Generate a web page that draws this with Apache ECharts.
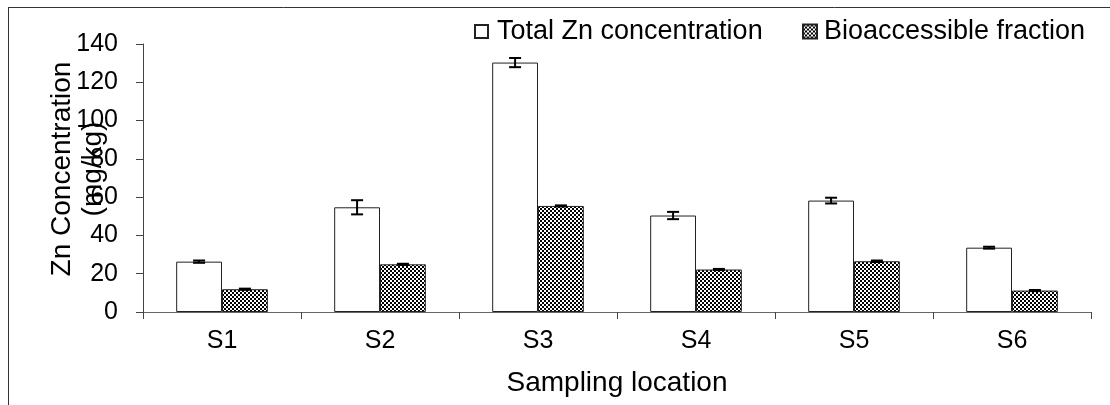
<!DOCTYPE html>
<html>
<head>
<meta charset="utf-8">
<script src="https://cdn.jsdelivr.net/npm/echarts@6/dist/echarts.min.js"></script>
<style>html,body{margin:0;padding:0;background:#fff}#c{width:1110px;height:405px}</style>
</head>
<body>
<div id="c"></div>
<script>
var categories = ['S1', 'S2', 'S3', 'S4', 'S5', 'S6'];
var totalZn = [26.3, 54.7, 130.3, 50.4, 58.2, 33.6];
var totalZnErr = [0.6, 3.7, 2.4, 1.9, 1.5, 0.5];
var bioFraction = [11.9, 24.9, 55.4, 22.2, 26.5, 11.2];
var bioFractionErr = [0.3, 0.3, 0.3, 0.3, 0.4, 0.3];
var yTicks = [0, 20, 40, 60, 80, 100, 120, 140];

var FONT = 'Liberation Sans, Arial, sans-serif';
var CAT_GAP = 0.42;

// checkerboard pattern
var pc = document.createElement('canvas');
pc.width = 4; pc.height = 4;
var pctx = pc.getContext('2d');
pctx.fillStyle = '#fff'; pctx.fillRect(0, 0, 4, 4);
pctx.fillStyle = '#000';
pctx.fillRect(0, 0, 2, 2);
pctx.fillRect(2, 2, 2, 2);

function errSeries(name, vals, errs, side) {
  return {
    type: 'custom',
    name: name + ' error',
    z: 5,
    silent: true,
    data: categories.map(function (c, i) { return [i, vals[i] - errs[i], vals[i] + errs[i]]; }),
    renderItem: function (params, api) {
      var band = api.size([1, 0])[0];
      var bw = band * (1 - CAT_GAP) / 2;
      var lo = api.coord([api.value(0), api.value(1)]);
      var hi = api.coord([api.value(0), api.value(2)]);
      var x = lo[0] + side * bw / 2;
      var cap = 6;
      var st = { stroke: '#000', lineWidth: 2 };
      return {
        type: 'group',
        children: [
          { type: 'line', shape: { x1: x, y1: lo[1], x2: x, y2: hi[1] }, style: st },
          { type: 'line', shape: { x1: x - cap, y1: lo[1], x2: x + cap, y2: lo[1] }, style: st },
          { type: 'line', shape: { x1: x - cap, y1: hi[1], x2: x + cap, y2: hi[1] }, style: st }
        ]
      };
    }
  };
}

var chart = echarts.init(document.getElementById('c'), null, { renderer: 'canvas' });
chart.setOption({
  animation: false,
  backgroundColor: '#fff',
  textStyle: { fontFamily: FONT },
  grid: { left: 143, right: 19, top: 44, bottom: 93, containLabel: false },
  legend: [
    {
      data: ['Total Zn concentration'],
      left: 474, top: 18, padding: 0,
      itemWidth: 13, itemHeight: 13,
      textStyle: { fontSize: 27, color: '#000', fontFamily: FONT, padding: [0, 0, 0, 4] },
      icon: 'rect'
    },
    {
      data: ['Bioaccessible fraction'],
      left: 802, top: 18, padding: 0,
      itemWidth: 14, itemHeight: 14,
      textStyle: { fontSize: 27, color: '#000', fontFamily: FONT, padding: [0, 0, 0, 2] },
      icon: 'rect'
    }
  ],
  xAxis: {
    type: 'category',
    data: categories,
    boundaryGap: true,
    name: 'Sampling location',
    nameLocation: 'middle',
    nameGap: 57,
    nameMoveOverlap: false,
    nameTextStyle: { fontSize: 28, color: '#000', fontFamily: FONT },
    axisLine: { lineStyle: { color: '#666', width: 1 } },
    axisTick: { show: true, length: 7, lineStyle: { color: '#444' }, alignWithLabel: false },
    axisLabel: { fontSize: 25, color: '#000', margin: 17, fontFamily: FONT },
    splitLine: { show: false }
  },
  yAxis: {
    type: 'value',
    min: yTicks[0], max: yTicks[yTicks.length - 1], interval: yTicks[1] - yTicks[0],
    name: 'Zn Concentration\n(mg/kg)',
    nameLocation: 'middle',
    nameGap: 34,
    nameMoveOverlap: false,
    nameTextStyle: { fontSize: 28, color: '#000', lineHeight: 31, fontFamily: FONT, padding: [0, 0, 0, 18] },
    axisLine: { show: true, lineStyle: { color: '#444', width: 1 } },
    axisTick: { show: true, length: 7, lineStyle: { color: '#444' } },
    axisLabel: { fontSize: 25, color: '#000', margin: 25, fontFamily: FONT },
    splitLine: { show: false }
  },
  series: [
    {
      name: 'Total Zn concentration',
      type: 'bar',
      data: totalZn,
      barGap: '0%',
      barCategoryGap: (CAT_GAP * 100) + '%',
      itemStyle: { color: '#fff', borderColor: '#222', borderWidth: 1 }
    },
    {
      name: 'Bioaccessible fraction',
      type: 'bar',
      data: bioFraction,
      barGap: '0%',
      barCategoryGap: (CAT_GAP * 100) + '%',
      itemStyle: { color: { image: pc, repeat: 'repeat' }, borderColor: '#222', borderWidth: 1 }
    },
    errSeries('Total Zn concentration', totalZn, totalZnErr, -1),
    errSeries('Bioaccessible fraction', bioFraction, bioFractionErr, 1)
  ],
  graphic: [
    { type: 'line', shape: { x1: 8, y1: 7.5, x2: 1110, y2: 7.5 }, style: { stroke: '#333', lineWidth: 1 } },
    { type: 'line', shape: { x1: 8.5, y1: 7, x2: 8.5, y2: 405 }, style: { stroke: '#333', lineWidth: 1 } }
  ]
});
</script>
</body>
</html>
